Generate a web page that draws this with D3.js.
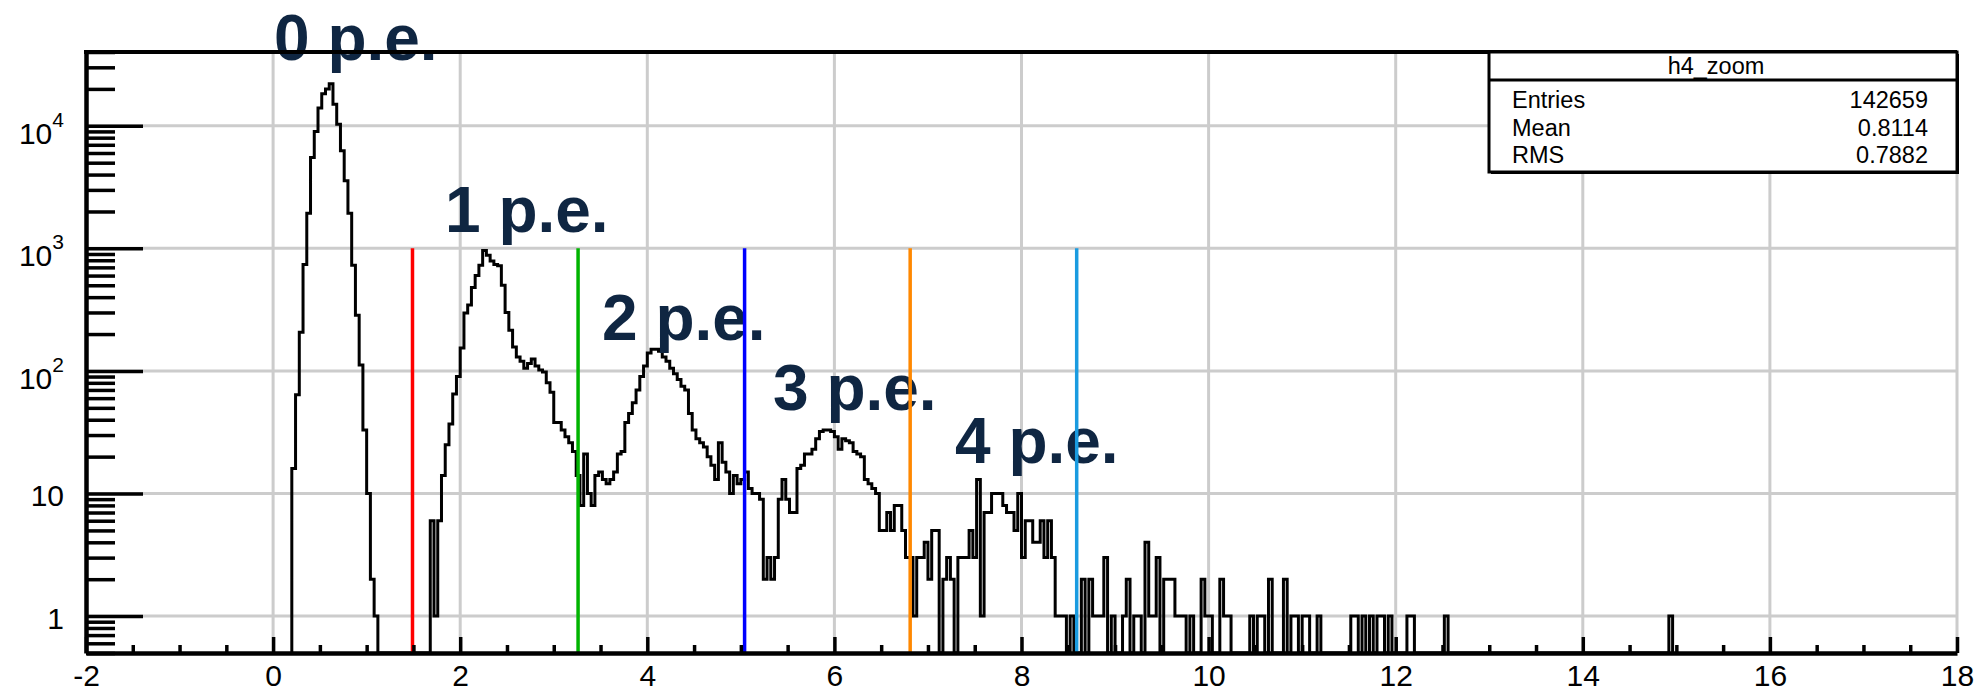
<!DOCTYPE html>
<html>
<head>
<meta charset="utf-8">
<script src="https://cdn.jsdelivr.net/npm/d3@7"></script>
<style>
    html, body { margin: 0; padding: 0; background: #fff; overflow: hidden; }
    svg { display: block; font-family: "Liberation Sans", Arial, Helvetica, sans-serif; }
</style>
</head>
<body>
<div class="chart__container"></div>
<script>
/*---------------------------Data---------------------------*/

// h4_zoom: one count per 0.04 bin, first bin starts at x = 0.20
const BIN_START = 0.20;
const BIN_WIDTH = 0.04;
const counts = [
    // 0 p.e.
    16, 64, 207, 740, 1930, 5500, 9000, 14000, 18300, 20000,
    22000, 15000, 10300, 6270, 3570, 1930, 730, 285, 112, 33,
    10, 2, 1,
    0, 0, 0, 0, 0, 0, 0, 0, 0, 0, 0, 0, 0, 0,
    // 1 p.e.
    6, 1, 6, 14, 25, 37, 65, 90, 154, 297,
    345, 480, 600, 730, 960, 880, 790, 740, 720, 500,
    300, 215, 157, 130, 120, 105, 115, 125, 110, 102,
    98, 80, 67, 38, 38, 33, 29, 26, 22, 14,
    // 2 p.e.
    8, 21, 10, 8, 14, 15, 13, 12, 13, 15,
    21, 22, 38, 45, 55, 70, 90, 110, 140, 150,
    150, 145, 130, 120, 105, 95, 85, 75, 70, 45,
    33, 28, 26, 24, 20, 17, 13, 26, 18, 15,
    10, 14, 12, 13, 15, 11,
    // 3 p.e.
    10, 10, 9, 2, 3, 2, 3, 9, 13, 9,
    7, 7, 16, 17, 21, 21, 23, 28, 32, 33,
    33, 32, 29, 23, 28, 27, 26, 22, 21, 20,
    13, 12, 11, 10, 5, 5, 7, 5, 8, 8,
    5, 3, 3, 1, 3, 3, 4, 2, 5, 5,
    // 4 p.e.
    0, 2, 3, 2, 0, 3, 3, 3, 5, 3,
    13, 1, 7, 7, 10, 10, 10, 8, 7, 7,
    5, 10, 3, 6, 6, 4, 4, 6, 3, 6,
    // tail
    3, 1, 1, 1, 0, 1, 0, 0, 2, 0,
    2, 1, 1, 1, 3, 0, 1, 0, 0, 1,
    2, 0, 1, 1, 0, 4, 1, 1, 3, 0,
    2, 2, 2, 1, 1, 1, 0, 1, 0, 0,
    2, 1, 1, 0, 0, 2, 1, 1, 0, 0,
    0, 0, 0, 1, 0, 1, 1, 0, 2, 0,
    0, 0, 2, 0, 1, 1, 0, 1, 1, 0,
    0, 1, 0, 0, 0, 0, 0, 0, 0, 0,
    1, 1, 0, 1, 0, 1, 0, 1, 1, 0,
    1, 0, 0, 0, 0, 1, 1, 0, 0, 0,
    0, 0, 0, 0, 0, 1, 0, 0, 0, 0,
    0, 0, 0, 0, 0, 0, 0, 0, 0, 0,
    0, 0, 0, 0, 0, 0, 0, 0, 0, 0,
    0, 0, 0, 0, 0, 0, 0, 0, 0, 0,
    0, 0, 0, 0, 0, 0, 0, 0, 0, 0,
    0, 0, 0, 0, 0, 0, 0, 0, 0, 0,
    0, 0, 0, 0, 0,
    1
];

const xMajorTicks = [-2, 0, 2, 4, 6, 8, 10, 12, 14, 16, 18];
const yMajorTicks = [1, 10, 100, 1000, 10000];

const cutValues = [1.49, 3.26, 5.04, 6.81, 8.59];
const cutTop = 1000;

const peLabels = ["0 p.e.", "1 p.e.", "2 p.e.", "3 p.e.", "4 p.e."];

const statTitle = "h4_zoom";
const statNames = ["Entries", "Mean", "RMS"];
const statValues = ["142659", "0.8114", "0.7882"];

/*---------------------------Layout---------------------------*/

const CHART__WIDTH = 1974;
const CHART__HEIGHT = 691;
const FRAME = { left: 86, right: 1957, top: 52, bottom: 653 };
const CUT_COLORS = ["#ff0000", "#00b400", "#0000ff", "#ff8800", "#1a9be0"];
const PE_POS = [[274, 60], [445, 232], [602, 340], [773, 410], [955, 463]];
const STAT = { x: 1489, y: 52, w: 468, h: 120, sep: 28 };
const GRID = "#cccccc";

/*---------------------------Chart---------------------------*/

const xScale = d3.scaleLinear().domain([-2, 18]).range([FRAME.left, FRAME.right]);
const yScale = d3.scaleLog().domain([0.5, 4.0e4]).range([FRAME.bottom, FRAME.top]);

const svg = d3.select(".chart__container").append("svg")
    .attr("width", CHART__WIDTH)
    .attr("height", CHART__HEIGHT);

//grid

svg.append("g").selectAll("line")
    .data(xMajorTicks.slice(1))
    .join("line")
    .attr("x1", d => xScale(d)).attr("x2", d => xScale(d))
    .attr("y1", FRAME.top).attr("y2", FRAME.bottom)
    .attr("stroke", GRID).attr("stroke-width", 3);

svg.append("g").selectAll("line")
    .data(yMajorTicks)
    .join("line")
    .attr("x1", FRAME.left).attr("x2", FRAME.right)
    .attr("y1", d => yScale(d)).attr("y2", d => yScale(d))
    .attr("stroke", GRID).attr("stroke-width", 3);

//histogram

const floor = yScale.domain()[0];
const pts = [[BIN_START, floor]];
counts.forEach((c, i) => pts.push([BIN_START + i * BIN_WIDTH, c]));
pts.push([BIN_START + counts.length * BIN_WIDTH, floor]);

const histLine = d3.line()
    .x(d => xScale(d[0]))
    .y(d => yScale(d[1] > 0 ? d[1] : floor))
    .curve(d3.curveStepAfter);

svg.append("path")
    .datum(pts)
    .attr("d", histLine)
    .attr("fill", "none")
    .attr("stroke", "#000")
    .attr("stroke-width", 3);

//labels p.e.

svg.append("g").selectAll("text")
    .data(peLabels)
    .join("text")
    .attr("x", (d, i) => PE_POS[i][0])
    .attr("y", (d, i) => PE_POS[i][1])
    .attr("font-size", 64)
    .attr("font-weight", "bold")
    .attr("fill", "#0f2642")
    .text(d => d);

//cut lines

svg.append("g").selectAll("line")
    .data(cutValues)
    .join("line")
    .attr("x1", d => xScale(d)).attr("x2", d => xScale(d))
    .attr("y1", yScale(cutTop)).attr("y2", FRAME.bottom)
    .attr("stroke", (d, i) => CUT_COLORS[i])
    .attr("stroke-width", 3.5);

//x-axis

const xMinor = d3.range(-2, 18.01, 0.5).filter(v => v % 2 !== 0);

svg.append("g")
    .attr("transform", `translate(0,${FRAME.bottom})`)
    .call(d3.axisBottom(xScale).tickValues(xMinor).tickSize(-8).tickSizeOuter(0).tickFormat(""))
    .call(g => g.select(".domain").remove())
    .call(g => g.selectAll(".tick line").attr("stroke-width", 3.5));

svg.append("g")
    .attr("transform", `translate(0,${FRAME.bottom})`)
    .call(d3.axisBottom(xScale).tickValues(xMajorTicks).tickSize(-16).tickSizeOuter(0)
        .tickPadding(12).tickFormat(d => String(d)))
    .call(g => g.select(".domain").attr("stroke-width", 4.5))
    .call(g => g.selectAll(".tick line").attr("stroke-width", 3.5))
    .call(g => g.selectAll(".tick text")
        .attr("font-size", 30)
        .attr("font-family", "'Liberation Sans', Arial, sans-serif")
        .attr("fill", "#000"));

//y-axis

const yMinor = yScale.ticks().filter(v => !yMajorTicks.includes(v));

svg.append("g")
    .attr("transform", `translate(${FRAME.left},0)`)
    .call(d3.axisLeft(yScale).tickValues(yMinor).tickSize(-29).tickSizeOuter(0).tickFormat(""))
    .call(g => g.select(".domain").remove())
    .call(g => g.selectAll(".tick line").attr("stroke-width", 3.5));

svg.append("g")
    .attr("transform", `translate(${FRAME.left},0)`)
    .call(d3.axisLeft(yScale).tickValues(yMajorTicks).tickSize(-57).tickSizeOuter(0).tickFormat(""))
    .call(g => g.select(".domain").attr("stroke-width", 4.5))
    .call(g => g.selectAll(".tick line").attr("stroke-width", 3.5));

const yLab = svg.append("g").selectAll("text")
    .data(yMajorTicks)
    .join("text")
    .attr("x", 64)
    .attr("y", d => yScale(d) + (d >= 100 ? 18 : 12.5))
    .attr("text-anchor", "end")
    .attr("font-size", 30)
    .attr("fill", "#000");

yLab.filter(d => d < 100).text(d => String(d));
yLab.filter(d => d >= 100).each(function (d) {
    const t = d3.select(this);
    t.append("tspan").text("10");
    t.append("tspan").attr("dy", -17).attr("font-size", 21).text(String(Math.round(Math.log10(d))));
});

//top frame line

svg.append("line")
    .attr("x1", FRAME.left - 2).attr("x2", FRAME.right)
    .attr("y1", FRAME.top).attr("y2", FRAME.top)
    .attr("stroke", "#000").attr("stroke-width", 4);

//stats box

const stat = svg.append("g");

stat.append("rect")
    .attr("x", STAT.x + 2).attr("y", STAT.y + 2)
    .attr("width", STAT.w).attr("height", STAT.h)
    .attr("fill", "#000");

stat.append("rect")
    .attr("x", STAT.x).attr("y", STAT.y)
    .attr("width", STAT.w).attr("height", STAT.h)
    .attr("fill", "#fff").attr("stroke", "#000").attr("stroke-width", 3);

stat.append("line")
    .attr("x1", STAT.x).attr("x2", STAT.x + STAT.w)
    .attr("y1", STAT.y + STAT.sep).attr("y2", STAT.y + STAT.sep)
    .attr("stroke", "#000").attr("stroke-width", 3);

stat.append("text")
    .attr("x", STAT.x + STAT.w / 2 - 7)
    .attr("y", STAT.y + 22)
    .attr("text-anchor", "middle")
    .attr("font-size", 23.5)
    .text(statTitle);

stat.selectAll(".name")
    .data(statNames)
    .join("text")
    .attr("class", "name")
    .attr("x", STAT.x + 23)
    .attr("y", (d, i) => STAT.y + 56 + i * 27.5)
    .attr("font-size", 23.5)
    .text(d => d);

stat.selectAll(".value")
    .data(statValues)
    .join("text")
    .attr("class", "value")
    .attr("x", STAT.x + STAT.w - 29)
    .attr("y", (d, i) => STAT.y + 56 + i * 27.5)
    .attr("text-anchor", "end")
    .attr("font-size", 23.5)
    .text(d => d);
</script>
</body>
</html>
